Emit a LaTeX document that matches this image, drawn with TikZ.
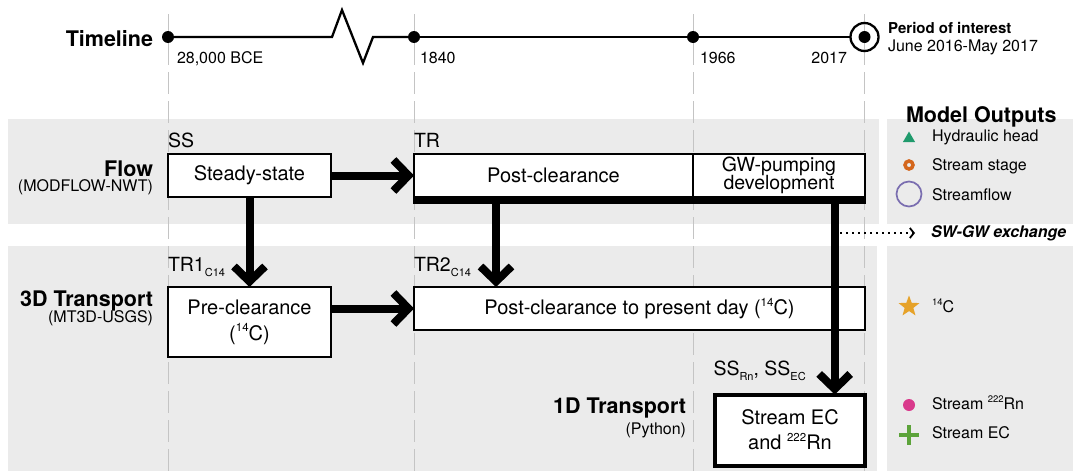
\documentclass[tikz,border=0pt]{standalone}
\usepackage{fontspec}
\setmainfont{TeX Gyre Heros}
\usetikzlibrary{arrows.meta,shapes.geometric}
\definecolor{band}{HTML}{EBEBEB}
\definecolor{dashc}{HTML}{C4C4C4}
\definecolor{tric}{HTML}{1F9A6C}
\definecolor{orng}{HTML}{D4661C}
\definecolor{purp}{HTML}{7A6EB0}
\definecolor{goldc}{HTML}{E6A229}
\definecolor{magc}{HTML}{D93A8C}
\definecolor{plusc}{HTML}{5CA33A}
\newcommand\fsz[1]{\fontsize{#1}{#1}\selectfont}
\newcommand\mysup[2]{\raisebox{0.42em}{\fontsize{#1}{#1}\selectfont #2}}
\newcommand\mysub[2]{\raisebox{-0.3em}{\fontsize{#1}{#1}\selectfont #2}}
\tikzset{
  lbl/.style={inner sep=0pt, outer sep=0pt, font=\fsz{19.5}},
  head/.style={inner sep=0pt, outer sep=0pt, font=\bfseries\fsz{21.5}},
  sub/.style={inner sep=0pt, outer sep=0pt, font=\fsz{16}},
  leg/.style={inner sep=0pt, outer sep=0pt, font=\fsz{16}},
  box/.style={draw, line width=2.5pt, fill=white, inner sep=0pt, outer sep=0pt, align=center, font=\fsz{20}},
  flowarr/.style={line width=8pt, -{Straight Barb[length=15pt,width=31pt]}},
  dotarr/.style={line width=1.8pt, dash pattern=on 1.8pt off 4.2pt, -{Straight Barb[length=4pt,width=10pt,line width=1.8pt]}},
  tdot/.style={circle, fill=black, inner sep=0pt, minimum size=12pt},
  tl/.style={line width=2.3pt, line join=miter},
  vdash/.style={dashc, line width=1pt, dash pattern=on 22pt off 7pt}
}
\begin{document}
\begin{tikzpicture}[x=1pt,y=-1pt]
\useasboundingbox (0,0) rectangle (1073,471);
% bands
\fill[band] (7.6,118.6) rectangle (879,223.6);
\fill[band] (7.6,245.5) rectangle (877,471);
\fill[band] (887,118.6) rectangle (1073,223.6);
\fill[band] (887,245.5) rectangle (1073,471);
% dashed verticals
\foreach \x in {168,414,693,864.5} \draw[vdash] (\x,14) -- (\x,471);
% timeline
\node[tdot] (t0) at (168,37) {};
\node[tdot] (t1) at (414,37) {};
\node[tdot] (t2) at (693,37) {};
\node[circle, draw, line width=2.3pt, minimum size=28pt, inner sep=0pt, outer sep=0pt] (t3) at (864.5,37) {};
\fill (t3.center) circle (6);
\draw[tl] (t0) -- (332,37) -- (342,10) -- (363,63) -- (373,37) -- (t1);
\draw[tl] (t1) -- (t2);
\draw[tl] (t2) -- (t3);
\node[head, anchor=base east] (tlab) at (153,46.5) {Timeline};
\node[sub, anchor=base west] (d0) at (177,63.5) {28,000 BCE};
\node[sub, anchor=base west] (d1) at (420,63.5) {1840};
\node[sub, anchor=base west] (d2) at (700,63.5) {1966};
\node[sub, anchor=base east] (d3) at (847,63.5) {2017};
\node[inner sep=0pt, font=\bfseries\fsz{15}, anchor=base west] (poi) at (888,33.5) {Period of interest};
\node[sub, anchor=base west] (poid) at (888,51) {June 2016-May 2017};
\node[head, anchor=base west] (mo) at (906,122) {Model Outputs};
% row labels
\node[head, anchor=base east] (flow) at (153,176) {Flow};
\node[sub, anchor=base east] (flowm) at (153,191.5) {(MODFLOW-NWT)};
\node[head, anchor=base east] (tr3) at (153,306.5) {3D Transport};
\node[sub, anchor=base east] (tr3m) at (153,322) {(MT3D-USGS)};
\node[head, anchor=base east] (tr1) at (686,413.5) {1D Transport};
\node[sub, anchor=base east] (tr1m) at (686,434.5) {(Python)};
% flow boxes
\node[box, minimum width=163pt, minimum height=43pt, anchor=north west] (ss) at (168,154) {Steady-state};
\node[box, minimum width=279pt, minimum height=43pt, anchor=north west] (post) at (414,154) {Post-clearance};
\node[box, minimum width=172pt, minimum height=43pt, anchor=north west, font={\fontsize{19.5}{17.5}\selectfont\lineskiplimit=-20pt}] (gw) at (693,154) {GW-pumping\\development};
\node[fill=black, inner sep=0pt, outer sep=0pt, minimum width=453.5pt, minimum height=7.5pt, anchor=north west] (bar) at (412.75,196) {};
\node[lbl, anchor=base west] (lss) at (168,147) {SS};
\node[lbl, anchor=base west] (ltr) at (414,147) {TR};
% transport boxes
\node[box, minimum width=163pt, minimum height=70pt, anchor=north west, font={\fontsize{20}{25.8}\selectfont}] (pre) at (168,287) {Pre-clearance\\(\mysup{11.5}{14}C)};
\node[box, minimum width=451pt, minimum height=43pt, anchor=north west] (ppd) at (414,287) {Post-clearance to present day (\mysup{11.5}{14}C)};
\node[box, line width=4pt, minimum width=150pt, minimum height=71pt, anchor=north west, font={\fontsize{20}{25}\selectfont}] (oned) at (715,394.5) {Stream EC\\and \mysup{11.5}{222}Rn};
\node[lbl, anchor=base west] (ltr1) at (168,271) {TR1\mysub{11}{C14}};
\node[lbl, anchor=base west] (ltr2) at (414,271) {TR2\mysub{11}{C14}};
\node[lbl, anchor=base west] (lssr) at (713.5,375) {SS\mysub{11}{Rn}, SS\mysub{11}{EC}};
% arrows
\coordinate (xa) at (496,0);
\coordinate (xb) at (834.7,0);
\draw[flowarr] (ss.east) -- (post.west);
\draw[flowarr] (ss.south) -- (pre.north);
\draw[flowarr] (bar.south -| xa) -- (ppd.north -| xa);
\draw[flowarr] (pre.east |- ppd.west) -- (ppd.west);
\draw[flowarr] (bar.south -| xb) -- (oned.north -| xb);
% SW-GW exchange
\coordinate (sws) at (840,233);
\coordinate (swe) at (915,233);
\draw[dotarr] (sws) -- (swe);
\node[inner sep=0pt, font=\bfseries\itshape\fsz{16}, anchor=base west] (sw) at (931,237) {SW-GW exchange};
% legend
\node[regular polygon, regular polygon sides=3, fill=tric, inner sep=0pt, minimum size=14pt] (m1) at (909,138.5) {};
\node[circle, draw=orng, line width=3.5pt, minimum size=8pt, inner sep=0pt] (m2) at (909,165) {};
\node[circle, draw=purp, line width=1.7pt, minimum size=25pt, inner sep=0pt] (m3) at (909,194) {};
\node[star, star points=5, star point ratio=2.4, fill=goldc, minimum size=22pt, inner sep=0pt] (m4) at (909,306.5) {};
\node[circle, fill=magc, minimum size=12pt, inner sep=0pt] (m5) at (909,405) {};
\draw[plusc, line width=4pt] (899,435) -- (919,435) (909,425) -- (909,445);
\node[leg, anchor=base west] (g1) at (932,141.7) {Hydraulic head};
\node[leg, anchor=base west] (g2) at (932,170) {Stream stage};
\node[leg, anchor=base west] (g3) at (932,200) {Streamflow};
\node[leg, anchor=base west] (g4) at (932,312) {\mysup{9.5}{14}C};
\node[leg, anchor=base west] (g5) at (932,409) {Stream \mysup{9.5}{222}Rn};
\node[leg, anchor=base west] (g6) at (932,438) {Stream EC};
\end{tikzpicture}
\end{document}
